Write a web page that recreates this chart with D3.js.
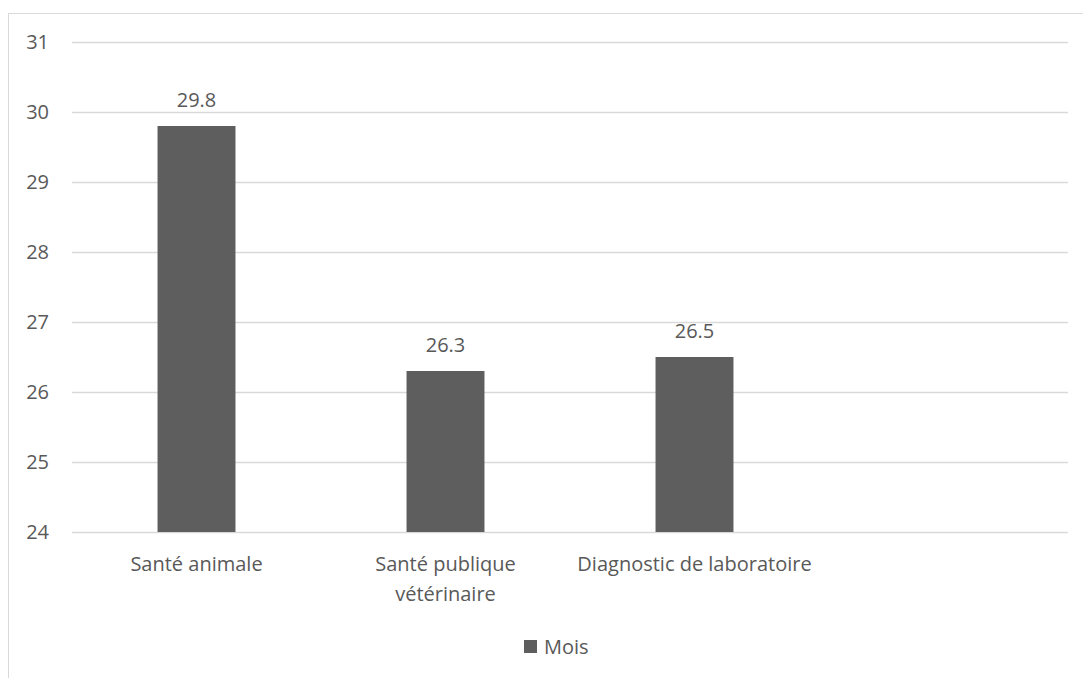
<!DOCTYPE html>
<html>
<head>
<meta charset="utf-8">
<script src="https://cdn.jsdelivr.net/npm/d3@7"></script>
<style>
  html, body { margin: 0; padding: 0; background: #fff; }
  svg { display: block; font-family: "Open Sans", sans-serif; }
</style>
</head>
<body>
<svg id="chart" width="1083" height="678"></svg>
<script>
// Categories (the fourth slot is left empty) and their wrapped label lines
const categories = ["Santé animale", "Santé publique vétérinaire", "Diagnostic de laboratoire", ""];
const categoryLines = [["Santé animale"], ["Santé publique", "vétérinaire"], ["Diagnostic de laboratoire"], []];
const moisValues = [29.8, 26.3, 26.5, null];
const yTicks = [24, 25, 26, 27, 28, 29, 30, 31];
const seriesName = "Mois";

const svg = d3.select("#chart");
const textColor = "#595959";
const barColor = "#5e5e5e";
const gridColor = "#d9d9d9";
const fontFamily = "'Open Sans', sans-serif";
const fontSize = 20;

// Outer chart frame
svg.append("rect")
  .attr("x", 8.5).attr("y", 13.5)
  .attr("width", 1100).attr("height", 700)
  .attr("fill", "#fff").attr("stroke", gridColor).attr("stroke-width", 1);

const plot = { left: 72, right: 1068, top: 42, bottom: 532 };

const x = d3.scaleBand()
  .domain(categories)
  .range([plot.left, plot.right])
  .paddingInner(0.687)
  .paddingOuter(0.3435);

const y = d3.scaleLinear()
  .domain([24, 31])
  .range([plot.bottom, plot.top]);

// Gridlines and y tick labels
const yAxis = d3.axisLeft(y)
  .tickValues(yTicks)
  .tickSize(-(plot.right - plot.left))
  .tickPadding(23)
  .tickFormat(d3.format("d"));

const gy = svg.append("g")
  .attr("transform", `translate(${plot.left},0)`)
  .call(yAxis)
  .attr("font-family", fontFamily)
  .attr("font-size", fontSize);
gy.select(".domain").remove();
gy.selectAll(".tick line").attr("stroke", gridColor).attr("stroke-width", 1.5);
gy.selectAll(".tick text").attr("fill", textColor);

// Bars
const data = categories.map((c, i) => ({ c, v: moisValues[i], lines: categoryLines[i] }))
  .filter(d => d.c !== "");

svg.append("g").selectAll("rect")
  .data(data.filter(d => d.v != null))
  .join("rect")
  .attr("x", d => x(d.c))
  .attr("width", x.bandwidth())
  .attr("y", d => y(d.v))
  .attr("height", d => y(24) - y(d.v))
  .attr("fill", barColor);

// Value labels
svg.append("g").selectAll("text")
  .data(data.filter(d => d.v != null))
  .join("text")
  .attr("x", d => x(d.c) + x.bandwidth() / 2)
  .attr("y", d => y(d.v) - 19)
  .attr("text-anchor", "middle")
  .attr("fill", textColor)
  .attr("font-size", fontSize)
  .text(d => d3.format(".1f")(d.v));

// Category labels, one text per line
svg.append("g").selectAll("text")
  .data(data.flatMap(d => d.lines.map((l, i) => ({ l, i, cx: x(d.c) + x.bandwidth() / 2 }))))
  .join("text")
  .attr("x", t => t.cx)
  .attr("y", t => 571 + t.i * 30)
  .attr("text-anchor", "middle")
  .attr("fill", textColor)
  .attr("font-size", fontSize)
  .text(t => t.l);

// Legend
const legend = svg.append("g").attr("transform", "translate(524,640)");
legend.append("rect").attr("width", 13).attr("height", 13).attr("fill", barColor);
legend.append("text")
  .attr("x", 20).attr("y", 14)
  .attr("fill", textColor)
  .attr("font-size", fontSize)
  .text(seriesName);
</script>
</body>
</html>
